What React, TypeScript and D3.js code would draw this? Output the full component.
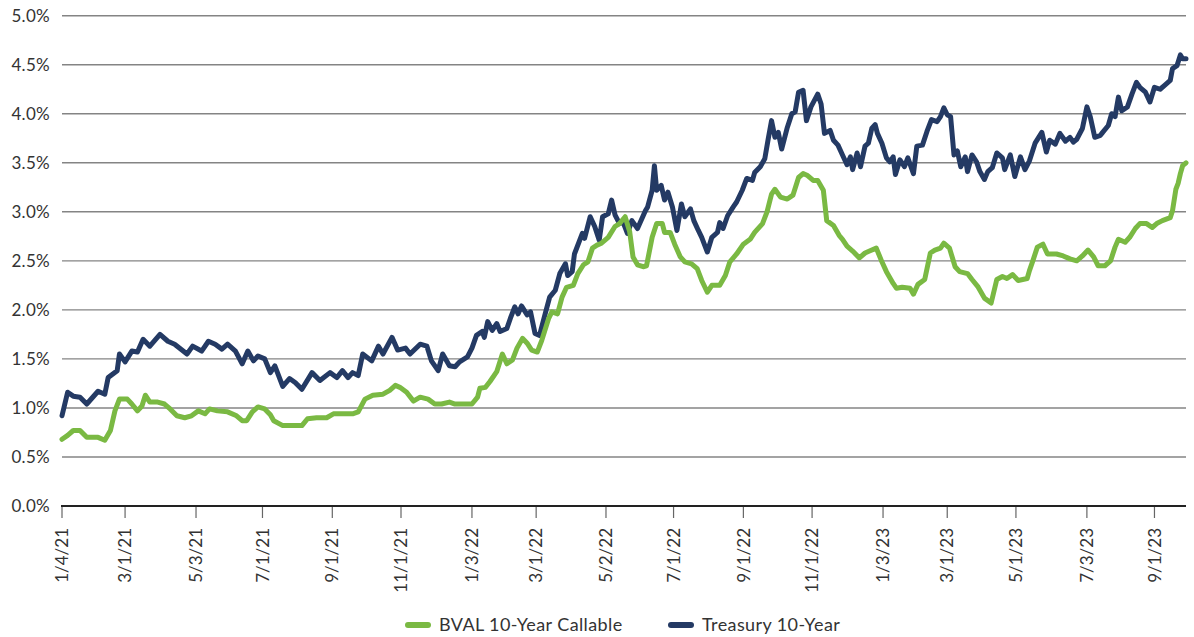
import React, { useEffect, useRef } from "react";
import * as d3 from "d3";

// BVAL 10-Year Callable (%)
const bvalSeries: [string, number][] = [
  ["2021-01-04", 0.68], ["2021-01-09", 0.72], ["2021-01-14", 0.77], ["2021-01-20", 0.77],
  ["2021-01-26", 0.7], ["2021-01-31", 0.7], ["2021-02-05", 0.7], ["2021-02-11", 0.67],
  ["2021-02-16", 0.77], ["2021-02-20", 0.97], ["2021-02-24", 1.09], ["2021-03-03", 1.09],
  ["2021-03-07", 1.04], ["2021-03-12", 0.97], ["2021-03-16", 1.02], ["2021-03-19", 1.13],
  ["2021-03-23", 1.06], ["2021-03-30", 1.06], ["2021-04-05", 1.04], ["2021-04-10", 0.99],
  ["2021-04-16", 0.92], ["2021-04-23", 0.9], ["2021-04-29", 0.92], ["2021-05-05", 0.97],
  ["2021-05-11", 0.94], ["2021-05-15", 0.99], ["2021-05-22", 0.97], ["2021-05-31", 0.96],
  ["2021-06-08", 0.92], ["2021-06-13", 0.87], ["2021-06-17", 0.87], ["2021-06-22", 0.96],
  ["2021-06-27", 1.01], ["2021-07-03", 0.99], ["2021-07-08", 0.93], ["2021-07-11", 0.87],
  ["2021-07-19", 0.82], ["2021-07-28", 0.82], ["2021-08-05", 0.82], ["2021-08-10", 0.89],
  ["2021-08-18", 0.9], ["2021-08-27", 0.9], ["2021-09-02", 0.94], ["2021-09-11", 0.94],
  ["2021-09-19", 0.94], ["2021-09-24", 0.96], ["2021-09-30", 1.09], ["2021-10-07", 1.13],
  ["2021-10-16", 1.14], ["2021-10-22", 1.18], ["2021-10-27", 1.23], ["2021-10-31", 1.21],
  ["2021-11-06", 1.16], ["2021-11-12", 1.07], ["2021-11-18", 1.11], ["2021-11-25", 1.09],
  ["2021-12-01", 1.04], ["2021-12-07", 1.04], ["2021-12-14", 1.06], ["2021-12-19", 1.04],
  ["2021-12-28", 1.04], ["2022-01-03", 1.04], ["2022-01-08", 1.11], ["2022-01-10", 1.2],
  ["2022-01-15", 1.21], ["2022-01-19", 1.27], ["2022-01-25", 1.37], ["2022-01-30", 1.55],
  ["2022-02-03", 1.45], ["2022-02-08", 1.49], ["2022-02-12", 1.61], ["2022-02-17", 1.71],
  ["2022-02-21", 1.66], ["2022-02-25", 1.59], ["2022-03-02", 1.57], ["2022-03-06", 1.69],
  ["2022-03-12", 1.91], ["2022-03-15", 1.98], ["2022-03-20", 1.96], ["2022-03-24", 2.13],
  ["2022-03-28", 2.23], ["2022-04-03", 2.25], ["2022-04-07", 2.37], ["2022-04-12", 2.46],
  ["2022-04-16", 2.49], ["2022-04-20", 2.63], ["2022-04-24", 2.66], ["2022-04-28", 2.68],
  ["2022-05-04", 2.74], ["2022-05-10", 2.85], ["2022-05-14", 2.88], ["2022-05-19", 2.95],
  ["2022-05-23", 2.8], ["2022-05-26", 2.54], ["2022-05-30", 2.46], ["2022-06-04", 2.44],
  ["2022-06-07", 2.45], ["2022-06-12", 2.74], ["2022-06-16", 2.88], ["2022-06-21", 2.88],
  ["2022-06-23", 2.79], ["2022-06-28", 2.79], ["2022-07-02", 2.67], ["2022-07-07", 2.54],
  ["2022-07-11", 2.49], ["2022-07-17", 2.47], ["2022-07-22", 2.42], ["2022-07-26", 2.3],
  ["2022-07-31", 2.18], ["2022-08-04", 2.25], ["2022-08-11", 2.25], ["2022-08-16", 2.35],
  ["2022-08-20", 2.49], ["2022-08-26", 2.57], ["2022-09-01", 2.67], ["2022-09-07", 2.72],
  ["2022-09-11", 2.79], ["2022-09-18", 2.88], ["2022-09-22", 3.0], ["2022-09-26", 3.18],
  ["2022-09-29", 3.23], ["2022-10-04", 3.15], ["2022-10-10", 3.13], ["2022-10-15", 3.17],
  ["2022-10-20", 3.35], ["2022-10-24", 3.39], ["2022-10-28", 3.37], ["2022-11-02", 3.32],
  ["2022-11-06", 3.32], ["2022-11-11", 3.22], ["2022-11-14", 2.91], ["2022-11-20", 2.86],
  ["2022-11-25", 2.76], ["2022-11-28", 2.72], ["2022-12-02", 2.65], ["2022-12-07", 2.6],
  ["2022-12-13", 2.53], ["2022-12-18", 2.58], ["2022-12-22", 2.6], ["2022-12-28", 2.63],
  ["2023-01-02", 2.49], ["2023-01-06", 2.39], ["2023-01-12", 2.27], ["2023-01-15", 2.22],
  ["2023-01-20", 2.23], ["2023-01-27", 2.22], ["2023-01-30", 2.16], ["2023-02-03", 2.26],
  ["2023-02-09", 2.31], ["2023-02-14", 2.58], ["2023-02-18", 2.61], ["2023-02-23", 2.63],
  ["2023-02-26", 2.68], ["2023-03-03", 2.63], ["2023-03-08", 2.44], ["2023-03-12", 2.39],
  ["2023-03-19", 2.37], ["2023-03-23", 2.31], ["2023-03-28", 2.24], ["2023-04-03", 2.12],
  ["2023-04-09", 2.07], ["2023-04-14", 2.31], ["2023-04-19", 2.34], ["2023-04-23", 2.32],
  ["2023-04-28", 2.36], ["2023-05-03", 2.3], ["2023-05-11", 2.32], ["2023-05-13", 2.4],
  ["2023-05-16", 2.5], ["2023-05-20", 2.64], ["2023-05-25", 2.67], ["2023-05-29", 2.57],
  ["2023-06-06", 2.57], ["2023-06-12", 2.55], ["2023-06-18", 2.52], ["2023-06-24", 2.5],
  ["2023-06-29", 2.55], ["2023-07-04", 2.61], ["2023-07-09", 2.54], ["2023-07-13", 2.45],
  ["2023-07-19", 2.45], ["2023-07-24", 2.5], ["2023-07-28", 2.64], ["2023-07-31", 2.72],
  ["2023-08-06", 2.69], ["2023-08-10", 2.74], ["2023-08-15", 2.83], ["2023-08-19", 2.88],
  ["2023-08-25", 2.88], ["2023-08-30", 2.84], ["2023-09-03", 2.88], ["2023-09-08", 2.91],
  ["2023-09-15", 2.94], ["2023-09-17", 3.01], ["2023-09-20", 3.23], ["2023-09-22", 3.29],
  ["2023-09-24", 3.39], ["2023-09-26", 3.47], ["2023-09-29", 3.5],
];

// Treasury 10-Year (%)
const treasurySeries: [string, number][] = [
  ["2021-01-04", 0.92], ["2021-01-09", 1.16], ["2021-01-14", 1.12], ["2021-01-20", 1.11],
  ["2021-01-26", 1.04], ["2021-02-05", 1.17], ["2021-02-11", 1.14], ["2021-02-14", 1.31],
  ["2021-02-22", 1.38], ["2021-02-24", 1.55], ["2021-03-01", 1.47], ["2021-03-07", 1.58],
  ["2021-03-12", 1.57], ["2021-03-17", 1.7], ["2021-03-23", 1.63], ["2021-04-01", 1.75],
  ["2021-04-08", 1.68], ["2021-04-14", 1.65], ["2021-04-25", 1.55], ["2021-04-30", 1.63],
  ["2021-05-08", 1.58], ["2021-05-14", 1.68], ["2021-05-20", 1.65], ["2021-05-26", 1.6],
  ["2021-05-31", 1.65], ["2021-06-07", 1.58], ["2021-06-13", 1.45], ["2021-06-18", 1.58],
  ["2021-06-23", 1.48], ["2021-06-27", 1.53], ["2021-07-03", 1.5], ["2021-07-08", 1.36],
  ["2021-07-12", 1.43], ["2021-07-19", 1.22], ["2021-07-25", 1.3], ["2021-07-30", 1.26],
  ["2021-08-05", 1.19], ["2021-08-14", 1.36], ["2021-08-21", 1.28], ["2021-08-30", 1.36],
  ["2021-09-05", 1.31], ["2021-09-10", 1.38], ["2021-09-15", 1.31], ["2021-09-19", 1.36],
  ["2021-09-24", 1.33], ["2021-09-28", 1.55], ["2021-10-06", 1.48], ["2021-10-12", 1.63],
  ["2021-10-16", 1.55], ["2021-10-24", 1.72], ["2021-10-29", 1.59], ["2021-11-05", 1.61],
  ["2021-11-09", 1.55], ["2021-11-18", 1.65], ["2021-11-24", 1.63], ["2021-11-28", 1.48],
  ["2021-12-04", 1.38], ["2021-12-08", 1.55], ["2021-12-14", 1.43], ["2021-12-19", 1.42],
  ["2021-12-23", 1.47], ["2021-12-30", 1.52], ["2022-01-03", 1.61], ["2022-01-07", 1.74],
  ["2022-01-12", 1.78], ["2022-01-14", 1.72], ["2022-01-17", 1.88], ["2022-01-21", 1.79],
  ["2022-01-25", 1.86], ["2022-01-28", 1.78], ["2022-02-03", 1.81], ["2022-02-06", 1.91],
  ["2022-02-10", 2.03], ["2022-02-13", 1.96], ["2022-02-16", 2.04], ["2022-02-21", 1.95],
  ["2022-02-24", 1.98], ["2022-02-28", 1.76], ["2022-03-04", 1.74], ["2022-03-09", 1.96],
  ["2022-03-13", 2.13], ["2022-03-18", 2.2], ["2022-03-22", 2.37], ["2022-03-27", 2.47],
  ["2022-03-29", 2.35], ["2022-04-02", 2.39], ["2022-04-04", 2.57], ["2022-04-11", 2.78],
  ["2022-04-13", 2.73], ["2022-04-18", 2.95], ["2022-04-22", 2.85], ["2022-04-26", 2.71],
  ["2022-04-29", 2.95], ["2022-05-04", 2.98], ["2022-05-07", 3.12], ["2022-05-10", 2.97],
  ["2022-05-14", 2.88], ["2022-05-17", 2.9], ["2022-05-21", 2.78], ["2022-05-25", 2.91],
  ["2022-05-30", 2.83], ["2022-06-06", 3.01], ["2022-06-08", 3.05], ["2022-06-12", 3.22],
  ["2022-06-14", 3.47], ["2022-06-16", 3.22], ["2022-06-20", 3.27], ["2022-06-23", 3.12],
  ["2022-06-26", 3.2], ["2022-06-30", 3.05], ["2022-07-04", 2.81], ["2022-07-08", 3.08],
  ["2022-07-11", 2.95], ["2022-07-16", 3.03], ["2022-07-19", 2.91], ["2022-07-23", 2.81],
  ["2022-07-26", 2.74], ["2022-07-31", 2.59], ["2022-08-04", 2.74], ["2022-08-09", 2.79],
  ["2022-08-11", 2.89], ["2022-08-14", 2.83], ["2022-08-18", 2.96], ["2022-08-23", 3.05],
  ["2022-08-26", 3.1], ["2022-08-31", 3.22], ["2022-09-04", 3.34], ["2022-09-09", 3.32],
  ["2022-09-11", 3.4], ["2022-09-16", 3.46], ["2022-09-20", 3.54], ["2022-09-23", 3.74],
  ["2022-09-26", 3.93], ["2022-09-29", 3.76], ["2022-10-02", 3.81], ["2022-10-05", 3.64],
  ["2022-10-10", 3.86], ["2022-10-14", 4.0], ["2022-10-17", 4.02], ["2022-10-20", 4.22],
  ["2022-10-24", 4.24], ["2022-10-27", 3.93], ["2022-10-31", 4.07], ["2022-11-06", 4.2],
  ["2022-11-09", 4.1], ["2022-11-12", 3.8], ["2022-11-17", 3.83], ["2022-11-20", 3.73],
  ["2022-11-24", 3.68], ["2022-11-28", 3.58], ["2022-12-02", 3.48], ["2022-12-05", 3.56],
  ["2022-12-07", 3.43], ["2022-12-11", 3.6], ["2022-12-14", 3.46], ["2022-12-18", 3.67],
  ["2022-12-21", 3.7], ["2022-12-24", 3.85], ["2022-12-27", 3.89], ["2022-12-29", 3.8],
  ["2023-01-02", 3.7], ["2023-01-06", 3.55], ["2023-01-09", 3.51], ["2023-01-12", 3.56],
  ["2023-01-14", 3.38], ["2023-01-18", 3.53], ["2023-01-22", 3.46], ["2023-01-25", 3.55],
  ["2023-01-30", 3.39], ["2023-02-02", 3.67], ["2023-02-07", 3.68], ["2023-02-11", 3.82],
  ["2023-02-15", 3.94], ["2023-02-20", 3.92], ["2023-02-23", 3.97], ["2023-02-26", 4.06],
  ["2023-03-01", 3.99], ["2023-03-04", 3.97], ["2023-03-07", 3.58], ["2023-03-10", 3.62],
  ["2023-03-13", 3.46], ["2023-03-17", 3.56], ["2023-03-19", 3.41], ["2023-03-23", 3.58],
  ["2023-03-27", 3.51], ["2023-03-30", 3.41], ["2023-04-03", 3.33], ["2023-04-06", 3.41],
  ["2023-04-10", 3.45], ["2023-04-14", 3.6], ["2023-04-19", 3.55], ["2023-04-21", 3.43],
  ["2023-04-26", 3.58], ["2023-04-30", 3.36], ["2023-05-05", 3.56], ["2023-05-09", 3.43],
  ["2023-05-13", 3.52], ["2023-05-18", 3.7], ["2023-05-24", 3.81], ["2023-05-28", 3.61],
  ["2023-05-31", 3.73], ["2023-06-05", 3.69], ["2023-06-09", 3.8], ["2023-06-14", 3.72],
  ["2023-06-18", 3.76], ["2023-06-21", 3.71], ["2023-06-24", 3.74], ["2023-06-29", 3.85],
  ["2023-07-03", 4.07], ["2023-07-06", 3.97], ["2023-07-10", 3.76], ["2023-07-15", 3.78],
  ["2023-07-17", 3.81], ["2023-07-22", 3.88], ["2023-07-25", 4.0], ["2023-07-28", 3.97],
  ["2023-07-31", 4.17], ["2023-08-03", 4.03], ["2023-08-08", 4.07], ["2023-08-12", 4.2],
  ["2023-08-16", 4.32], ["2023-08-19", 4.27], ["2023-08-24", 4.22], ["2023-08-28", 4.12],
  ["2023-09-01", 4.27], ["2023-09-06", 4.25], ["2023-09-10", 4.29], ["2023-09-15", 4.34],
  ["2023-09-17", 4.46], ["2023-09-21", 4.49], ["2023-09-24", 4.6], ["2023-09-26", 4.56],
  ["2023-09-29", 4.56],
];

const xTickDates = [
  "2021-01-04", "2021-03-01", "2021-05-03", "2021-07-01", "2021-09-01", "2021-11-01",
  "2022-01-03", "2022-03-01", "2022-05-02", "2022-07-01", "2022-09-01", "2022-11-01",
  "2023-01-03", "2023-03-01", "2023-05-01", "2023-07-03", "2023-09-01",
];
const yTicks = [0, 0.5, 1, 1.5, 2, 2.5, 3, 3.5, 4, 4.5, 5];

const seriesNames = ["BVAL 10-Year Callable", "Treasury 10-Year"];
const seriesColors = ["#7ab943", "#243a64"];

const FONT = "Lato, 'Noto Sans', sans-serif";

export default function App() {
  const svgRef = useRef<SVGSVGElement | null>(null);

  useEffect(() => {
    const width = 1194;
    const height = 637;
    const marginLeft = 62;
    const plotRight = 1186;
    const plotTop = 15.7;
    const plotBottom = 506;

    const parse = d3.timeParse("%Y-%m-%d");
    const toPoints = (s: [string, number][]) =>
      s.map(([d, v]) => ({ date: parse(d) as Date, value: v }));
    const bval = toPoints(bvalSeries);
    const treasury = toPoints(treasurySeries);

    // scales
    const x = d3
      .scaleTime()
      .domain([parse("2021-01-04") as Date, parse("2023-09-29") as Date])
      .range([marginLeft, plotRight]);
    const y = d3.scaleLinear().domain([0, 5]).range([plotBottom, plotTop]);

    const svg = d3
      .select(svgRef.current)
      .attr("viewBox", [0, 0, width, height])
      .attr("width", width)
      .attr("height", height);
    svg.selectAll("*").remove();

    // gridlines + y labels
    const yAxis = svg.append("g");
    yAxis
      .selectAll("line")
      .data(yTicks.filter((t) => t > 0))
      .join("line")
      .attr("x1", marginLeft)
      .attr("x2", plotRight)
      .attr("y1", (d) => y(d))
      .attr("y2", (d) => y(d))
      .attr("stroke", "#848484")
      .attr("stroke-width", 1.4);
    yAxis
      .selectAll("text")
      .data(yTicks)
      .join("text")
      .attr("x", 50)
      .attr("y", (d) => y(d))
      .attr("dy", "0.36em")
      .attr("text-anchor", "end")
      .attr("fill", "#333")
      .style("font", `17px ${FONT}`)
      .style("letter-spacing", "0.3px")
      .text((d) => `${d.toFixed(1)}%`);

    // x axis: baseline, ticks, rotated labels
    const xAxis = svg.append("g");
    xAxis
      .selectAll("line.tick")
      .data(xTickDates.map((d) => parse(d) as Date))
      .join("line")
      .attr("class", "tick")
      .attr("x1", (d) => x(d))
      .attr("x2", (d) => x(d))
      .attr("y1", plotBottom)
      .attr("y2", plotBottom + 12)
      .attr("stroke", "#666")
      .attr("stroke-width", 1.2);
    xAxis
      .append("line")
      .attr("x1", marginLeft - 1)
      .attr("x2", plotRight)
      .attr("y1", plotBottom)
      .attr("y2", plotBottom)
      .attr("stroke", "#222")
      .attr("stroke-width", 2);
    const fmt = d3.timeFormat("%-m/%-d/%y");
    xAxis
      .selectAll("text")
      .data(xTickDates.map((d) => parse(d) as Date))
      .join("text")
      .attr("transform", (d) => `translate(${x(d)},${plotBottom + 22}) rotate(-90)`)
      .attr("dy", "0.36em")
      .attr("text-anchor", "end")
      .attr("fill", "#333")
      .style("font", `17px ${FONT}`)
      .text((d) => fmt(d));

    // lines
    const line = d3
      .line<{ date: Date; value: number }>()
      .x((d) => x(d.date))
      .y((d) => y(d.value));

    [treasury, bval].forEach((data, i) => {
      svg
        .append("path")
        .attr("fill", "none")
        .attr("stroke", i === 0 ? seriesColors[1] : seriesColors[0])
        .attr("stroke-width", 5)
        .attr("stroke-linejoin", "round")
        .attr("stroke-linecap", "round")
        .attr("d", line(data));
    });

    // legend
    const legendY = 625;
    const legendItems = [
      { x: 405, name: seriesNames[0], color: seriesColors[0] },
      { x: 668, name: seriesNames[1], color: seriesColors[1] },
    ];
    const lg = svg.append("g");
    legendItems.forEach((it) => {
      lg.append("line")
        .attr("x1", it.x + 3)
        .attr("x2", it.x + 23)
        .attr("y1", legendY)
        .attr("y2", legendY)
        .attr("stroke", it.color)
        .attr("stroke-width", 6)
        .attr("stroke-linecap", "round");
      lg.append("text")
        .attr("x", it.x + 34)
        .attr("y", legendY)
        .attr("dy", "0.36em")
        .attr("fill", "#333")
        .style("font", `18px ${FONT}`)
        .style("letter-spacing", "0.4px")
        .text(it.name);
    });
  }, []);

  return (
    <div style={{ position: "absolute", left: 0, top: 0 }}>
      <svg ref={svgRef}></svg>
    </div>
  );
}
